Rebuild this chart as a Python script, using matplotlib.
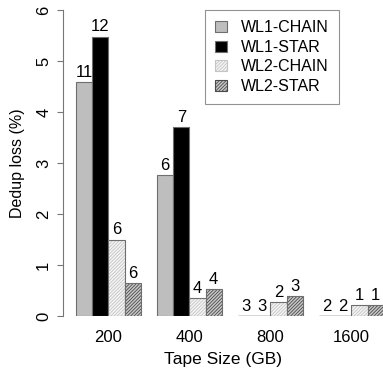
import numpy as np
import matplotlib.pyplot as plt
from matplotlib.patches import Patch

plt.rcParams['font.family'] = ['Liberation Sans', 'DejaVu Sans']
plt.rcParams['hatch.linewidth'] = 0.6

sizes = ['200', '400', '800', '1600']
series = ['WL1-CHAIN', 'WL1-STAR', 'WL2-CHAIN', 'WL2-STAR']
loss = {
    'WL1-CHAIN': [4.59, 2.76, 0.0, 0.0],
    'WL1-STAR': [5.48, 3.70, 0.0, 0.0],
    'WL2-CHAIN': [1.50, 0.36, 0.27, 0.22],
    'WL2-STAR': [0.65, 0.53, 0.40, 0.22],
}
counts = {
    'WL1-CHAIN': [11, 6, 3, 2],
    'WL1-STAR': [12, 7, 3, 2],
    'WL2-CHAIN': [6, 4, 2, 1],
    'WL2-STAR': [6, 4, 3, 1],
}

# fill, hatch, hatch colour
styles = {
    'WL1-CHAIN': ('#bebebe', None, None),
    'WL1-STAR': ('#000000', None, None),
    'WL2-CHAIN': ('#f4f4f4', '//////////', '#c4c4c4'),
    'WL2-STAR': ('#c8c8c8', '//////////', '#4a4a4a'),
}
edge = '#6e6e6e'

W, H = 383, 372
fig = plt.figure(figsize=(W / 100, H / 100), dpi=100)
# axes box in pixels: left 63, right 383, top 10, bottom 316
ax = fig.add_axes([63 / W, (H - 316) / H, (383 - 63) / W, (316 - 10) / H])

bw = 16.2
x0 = 76 - 63  # px from spine to first bar
group = np.arange(len(sizes))
for k, s in enumerate(series):
    fc, hatch, hc = styles[s]
    xs = x0 + (group * 5 + k) * bw
    vals = np.array(loss[s])
    if hatch:
        ax.bar(xs, vals, width=bw, align='edge', color=fc, edgecolor=hc,
               hatch=hatch, linewidth=0)
        ax.bar(xs, vals, width=bw, align='edge', fill=False, edgecolor=edge,
               linewidth=0.8)
    else:
        ax.bar(xs, vals, width=bw, align='edge', color=fc, edgecolor=edge,
               linewidth=0.8)
    zero = vals == 0
    ax.hlines(vals[zero], xs[zero], xs[zero] + bw, color='#555555',
              linewidth=1.0)
    for xi, v, c in zip(xs, vals, counts[s]):
        ax.text(xi + bw / 2, v + 0.04, str(c), ha='center', va='bottom',
                fontsize=12)

ax.set_xlim(0, 383 - 63)
ax.set_ylim(0, 6)
ax.set_yticks(range(7))
ax.set_yticklabels([str(i) for i in range(7)], rotation=90, va='center')
ax.set_xticks(x0 + (group * 5 + 2) * bw)
ax.set_xticklabels(sizes)
ax.tick_params(axis='x', length=0, pad=10, labelsize=12)
ax.tick_params(axis='y', length=4.5, color='#777777', width=0.8, pad=4,
               labelsize=12)
for sp in ['top', 'right', 'bottom']:
    ax.spines[sp].set_visible(False)
ax.spines['left'].set_color('#777777')
ax.spines['left'].set_linewidth(0.8)
ax.set_xlabel('Tape Size (GB)', fontsize=12.5, labelpad=5)
ax.set_ylabel('Dedup loss (%)', fontsize=11.5, labelpad=8)

handles = []
for s in series:
    fc, hatch, hc = styles[s]
    handles.append(Patch(facecolor=fc, edgecolor=edge if not hatch else hc,
                         hatch=hatch, linewidth=0.8, label=s))
leg = fig.legend(handles=handles, loc='upper left',
                 bbox_to_anchor=(205 / W, 1 - 10 / H), fontsize=11.5,
                 frameon=True, fancybox=False, handlelength=0.7,
                 handleheight=0.7, handletextpad=0.9, labelspacing=0.28,
                 borderpad=0.65, borderaxespad=0)
leg.get_frame().set_edgecolor('#777777')
leg.get_frame().set_linewidth(0.8)

fig.savefig('out.png', dpi=100)
